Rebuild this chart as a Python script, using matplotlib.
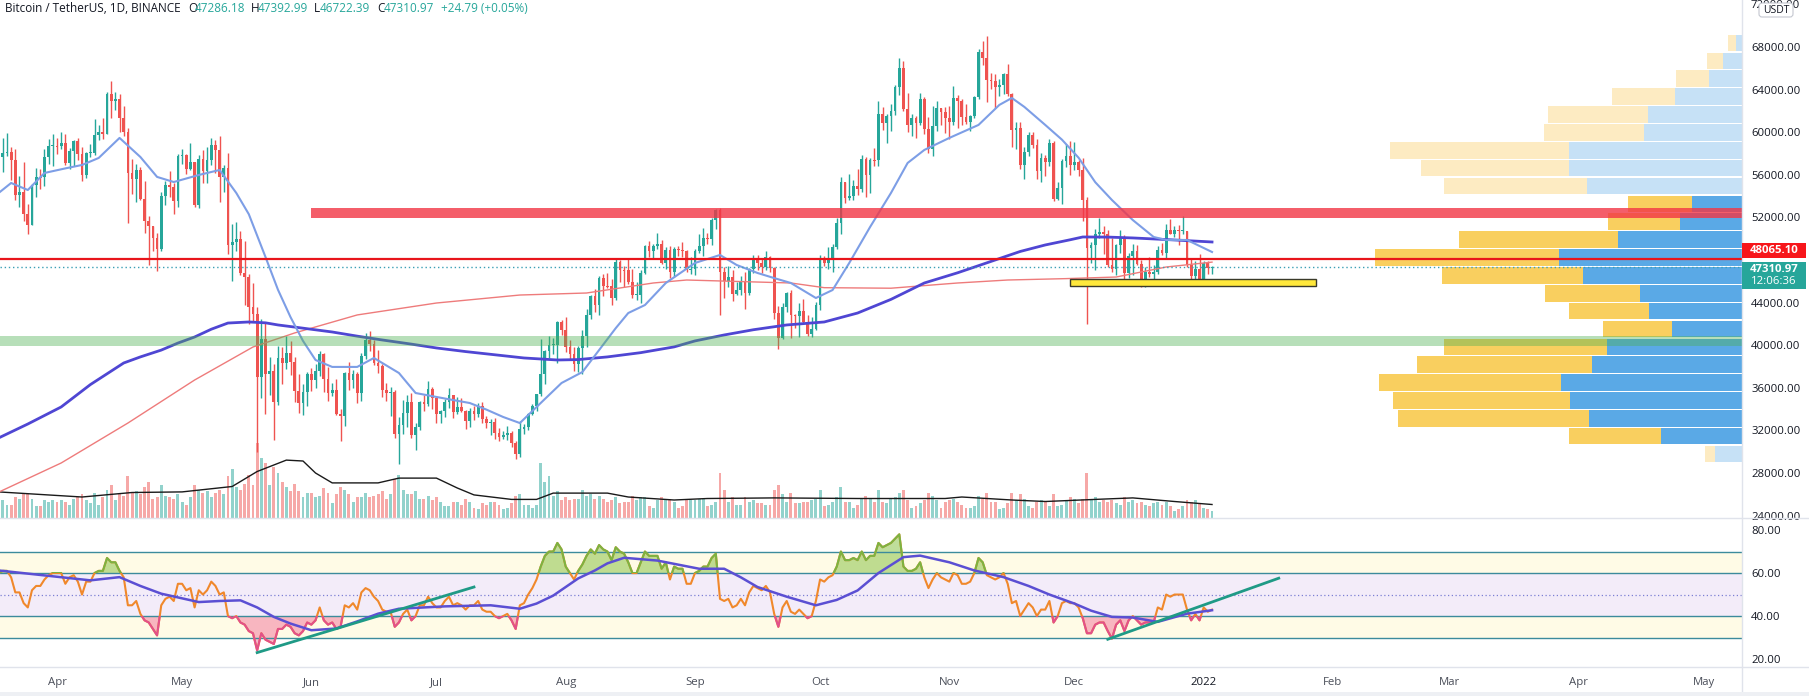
import numpy as np
import pandas as pd
import matplotlib
matplotlib.use("Agg")
import matplotlib.pyplot as plt
import matplotlib.dates as mdates
from matplotlib.patches import Rectangle, FancyBboxPatch
from matplotlib.transforms import blended_transform_factory
from matplotlib.lines import Line2D

plt.rcParams['font.family'] = ['Open Sans', 'DejaVu Sans']

# ---- daily candles, 2021-03-18 .. 2022-01-03 (BTC/USDT) ----
first_open = 58900
close = [
    57650, 58030, 58100, 57350, 54080, 54340, 52300, 51300, 55030, 55820, 55780, 57630, 58730, 58740,
    58720, 58970, 57060, 58200, 59130, 57990, 55950, 58080, 58090, 59770, 60000, 59860, 63580, 62960, 63160, 61330, 60000, 56150, 55630, 56430, 53750, 51700, 51150, 50050, 49000, 54020, 55030, 54820, 53550, 57750,
    57830, 56580, 57170, 53200, 57440, 56400, 57360, 58840, 58280, 55820, 56670, 49380, 49700, 49930, 46760, 46430, 43540, 42900, 36970, 40600, 37300, 37540, 34650, 38800, 38300, 39240, 38450, 35700, 34590, 35640, 37250,
    36690, 37560, 39190, 36850, 35520, 35800, 33550, 33380, 37390, 36690, 37310, 35550, 39020, 40520, 40140, 38350, 38090, 35820, 35480, 35600, 31680, 32510, 33680, 34660, 31590, 32280, 34700, 34490, 35910, 35040,
    33540, 33800, 34660, 35290, 33690, 34220, 33860, 32880, 33810, 33520, 34260, 33090, 32730, 32820, 31780, 31390, 31530, 31780, 30840, 29790, 32140, 32290, 33580, 34290, 35380, 37270, 39460, 40020, 40020, 42210, 41460,
    39850, 39150, 38200, 39720, 40860, 42840, 44610, 43820, 46290, 45590, 45550, 44420, 47830, 47100, 47050, 45940, 44690, 44700, 46760, 49320, 48870, 49280, 49520, 47700, 48960, 46850, 49070, 48900, 48830, 47050, 47170,
    48850, 49280, 50030, 49940, 51790, 52700, 46860, 46050, 46400, 44850, 45170, 46020, 44940, 47110, 48150, 47760, 47300, 48310, 47260, 43010, 40690, 43570, 44900, 42840, 42710, 43210, 42200, 41030, 41560, 43790,
    48140, 47670, 48200, 49230, 51490, 55340, 53800, 53970, 54960, 54690, 57490, 56000, 57370, 57350, 61670, 60880, 61530, 62010, 64280, 66000, 62210, 60690, 61290, 60850, 63080, 60330, 58460, 60590, 62270, 61890, 61320,
    61000, 63230, 62940, 61450, 61000, 61530, 63310, 67550, 66940, 64880, 64820, 64270, 64470, 65470, 63560, 60160, 60370, 56940, 58120, 59750, 58760, 56310, 57570, 57170, 58960, 53730, 54720, 57270, 57810, 56950,
    57180, 56480, 53600, 49150, 49400, 50440, 50590, 50470, 47550, 47140, 49390, 50100, 46740, 48380, 48860, 47630, 46130, 46830, 46680, 46910, 48900, 48610, 50820, 50400, 50780, 50700, 50700, 47540, 46460, 47120, 46220,
    47720, 47286.18, 47310.97,
]
high = [
    60100, 59450, 59900, 58600, 58400, 55850, 57200, 53250, 55100, 56650, 56550, 58400, 59400, 59800,
    59460, 60050, 59800, 58500, 59250, 59450, 58650, 58150, 58900, 61200, 60700, 61300, 63770, 64850, 63800, 63550, 62500, 60400, 57500, 57000, 56750, 55450, 52100, 51150, 50500, 54350, 55450, 56400, 55200, 57950,
    58450, 57950, 58950, 57200, 57900, 58350, 58650, 59500, 59300, 59600, 56900, 58000, 51350, 51550, 50700, 49800, 46650, 45800, 43550, 42450, 42200, 38850, 38250, 39900, 39800, 40900, 40400, 38900, 37300, 36400, 37450,
    37900, 38200, 39500, 39300, 37950, 36450, 36800, 34050, 37500, 38400, 37700, 37450, 39300, 41100, 41300, 40500, 39550, 38200, 36450, 36100, 35750, 33300, 34850, 35300, 35500, 32700, 34750, 35300, 36650, 36100,
    35050, 33950, 34950, 35950, 35300, 35100, 35050, 33900, 34100, 34250, 34600, 34650, 33350, 33100, 33200, 32250, 31950, 32450, 31900, 31050, 32850, 32600, 33650, 34500, 35400, 40550, 39550, 40900, 40650, 42300, 42400,
    42600, 40450, 39800, 39950, 41400, 43400, 44700, 45300, 46450, 46700, 46750, 46200, 48150, 48000, 47400, 48050, 47150, 45950, 47050, 49400, 49750, 49500, 50500, 49850, 49250, 49350, 49200, 49300, 49650, 48900, 48250,
    49000, 50400, 51050, 50550, 51900, 52800, 52900, 47350, 47400, 47050, 45950, 46450, 46900, 47250, 48450, 48500, 48150, 48850, 48350, 47350, 43650, 44000, 44950, 45200, 42950, 43950, 44350, 42800, 42600, 44100,
    48500, 48350, 49250, 49500, 51900, 55750, 55350, 56100, 55500, 56550, 57850, 57700, 57550, 58550, 62950, 62350, 61750, 62650, 64450, 67000, 66650, 63700, 61750, 61500, 63700, 63300, 61450, 62500, 62950, 62300, 62400,
    62450, 64300, 63500, 63100, 62600, 61600, 63350, 67800, 68550, 69000, 65600, 65450, 65000, 65550, 66400, 63650, 61000, 60950, 58600, 60000, 60050, 59400, 58000, 57900, 59400, 59200, 55300, 57450, 58850, 59200,
    59050, 57400, 57600, 53900, 49700, 50950, 51950, 51200, 50800, 50100, 49500, 50800, 50350, 48700, 49500, 49450, 48000, 47350, 48300, 47550, 49350, 49550, 51400, 51850, 51150, 51300, 52100, 50700, 48150, 47900, 48550,
    47950, 47950, 47392.99,
]
low = [
    57000, 56300, 57800, 55500, 53650, 53000, 51700, 50430, 51250, 53950, 54700, 54900, 57000, 56870,
    57930, 58450, 56900, 56500, 56800, 57350, 55450, 55700, 57700, 57900, 59250, 59400, 59800, 61300, 62050, 60000, 59600, 51500, 54200, 53400, 53600, 50500, 47500, 48800, 47000, 48800, 53200, 53900, 52350, 53000,
    57050, 56050, 56450, 53000, 52900, 55200, 55200, 56900, 56200, 53400, 54400, 48600, 46000, 48800, 46550, 43800, 42000, 42300, 30000, 35000, 33500, 35300, 31100, 34400, 36400, 37800, 37200, 34700, 33650, 33400, 34250,
    35700, 35950, 37150, 35600, 34800, 35250, 33400, 31000, 32400, 35800, 35950, 34600, 34750, 38750, 39500, 38100, 37400, 35150, 34800, 33350, 31250, 28800, 31700, 32300, 31300, 30150, 32000, 33850, 34250, 34000,
    32700, 32700, 33300, 34100, 33150, 33500, 33750, 32100, 32300, 33000, 33300, 32650, 32250, 31600, 31150, 31050, 31200, 31100, 30400, 29280, 29500, 31700, 32000, 33400, 33850, 35250, 36400, 38800, 39200, 38300, 41000,
    39400, 38700, 37600, 37500, 37300, 39850, 42450, 43100, 42850, 44650, 45350, 43800, 44250, 45950, 45500, 45700, 44400, 44200, 43950, 46650, 48300, 48100, 49050, 47600, 47150, 46300, 46400, 48400, 48300, 46850, 46700,
    46600, 48650, 48400, 49500, 49450, 50950, 42800, 44400, 45500, 44150, 44750, 44750, 43400, 44700, 46750, 47050, 46750, 47050, 46850, 42500, 39600, 40550, 43100, 40700, 41650, 40800, 42100, 40900, 40800, 41450,
    43300, 47450, 47150, 46900, 49050, 50400, 53350, 53600, 53650, 54100, 54400, 53900, 54300, 56800, 56850, 60200, 58950, 60100, 61600, 63450, 62000, 60000, 59650, 59500, 60650, 59800, 58000, 57800, 60150, 60700, 59950,
    59400, 60650, 60400, 60700, 60750, 60100, 61350, 63100, 66300, 62800, 64100, 62300, 63400, 63600, 63400, 58600, 58400, 56500, 55600, 57800, 58550, 55650, 55350, 55850, 56800, 53500, 53650, 53300, 56700, 56000,
    56450, 55850, 51700, 42000, 47700, 47100, 50050, 48600, 47300, 46850, 46600, 48650, 45650, 46300, 46550, 47500, 45450, 45500, 46400, 45550, 46650, 48450, 48050, 50400, 50150, 49450, 50450, 47300, 46100, 45900, 45700,
    46200, 46650, 46722.39,
]
# volume, thousand BTC
volume = [
    75, 60, 45, 45, 70, 65, 85, 80, 65, 40, 40, 60, 55, 60,
    55, 60, 55, 45, 65, 70, 80, 60, 50, 85, 45, 70, 95, 110, 60, 80, 75, 140, 85, 90, 80, 105, 120, 65, 70, 110, 75, 70, 65, 80,
    55, 45, 70, 110, 95, 85, 90, 70, 85, 95, 80, 140, 165, 105, 95, 115, 145, 110, 250, 200, 185, 110, 170, 150, 120, 105, 90, 115, 90, 70, 85,
    85, 70, 75, 100, 85, 50, 80, 105, 95, 80, 55, 70, 70, 85, 70, 75, 80, 90, 65, 80, 130, 145, 95, 80, 80, 90, 65, 65, 75, 60,
    70, 55, 40, 40, 55, 55, 45, 65, 55, 35, 30, 50, 45, 55, 55, 45, 30, 35, 50, 75, 80, 45, 45, 35, 45, 185, 120, 140, 75, 90, 60,
    70, 60, 65, 65, 95, 75, 80, 65, 75, 65, 55, 60, 70, 50, 55, 55, 75, 60, 70, 70, 40, 35, 60, 70, 60, 65, 55, 35, 40, 60, 60,
    60, 65, 65, 40, 45, 55, 150, 95, 55, 70, 45, 45, 70, 55, 60, 50, 50, 45, 45, 95, 110, 80, 55, 85, 50, 50, 55, 55, 60, 65,
    95, 40, 45, 55, 70, 105, 55, 55, 35, 45, 65, 75, 65, 55, 95, 55, 50, 65, 70, 85, 95, 60, 35, 40, 50, 60, 85, 75, 60, 35, 55,
    60, 65, 55, 45, 35, 35, 40, 75, 65, 85, 55, 55, 30, 35, 50, 85, 60, 80, 65, 40, 35, 55, 60, 55, 40, 80, 40, 45, 60, 70,
    65, 50, 65, 150, 60, 70, 55, 60, 55, 60, 50, 45, 70, 55, 60, 50, 55, 45, 40, 50, 55, 45, 55, 40, 25, 30, 40, 60, 55, 60, 50,
    35, 30, 25,
]
rsi = [
    60, 61, 61, 58, 51, 51, 46, 44, 52, 54, 54, 57, 59, 60,
    60, 60, 55, 58, 59, 56, 50, 56, 56, 60, 61, 61, 67, 65, 65, 61, 58, 45, 45, 47, 41, 38, 37, 34, 31, 45, 48, 49, 47, 55,
    55, 52, 53, 44, 52, 50, 52, 56, 54, 50, 51, 40, 39, 40, 37, 36, 33, 32, 24, 32, 29, 28, 27, 34, 34, 36, 35, 32, 31, 33, 37,
    36, 38, 44, 38, 36, 37, 34, 35, 45, 44, 46, 43, 51, 53, 52, 49, 47, 43, 42, 42, 35, 37, 41, 43, 38, 40, 45, 45, 49, 46,
    44, 44, 47, 49, 45, 46, 45, 43, 45, 45, 47, 43, 42, 42, 40, 39, 40, 41, 38, 34, 45, 46, 50, 53, 57, 63, 68, 70, 70, 74, 71,
    63, 60, 57, 61, 64, 68, 71, 69, 73, 71, 70, 66, 72, 70, 69, 65, 60, 60, 65, 70, 68, 68, 68, 62, 65, 57, 63, 62, 62, 55, 55,
    60, 61, 63, 63, 67, 69, 48, 47, 48, 44, 45, 48, 45, 51, 54, 53, 52, 54, 51, 41, 35, 44, 47, 42, 41, 43, 41, 39, 40, 47,
    57, 56, 58, 59, 63, 70, 66, 66, 67, 66, 70, 66, 68, 68, 74, 72, 73, 74, 76, 78, 63, 61, 61, 62, 65, 58, 53, 57, 60, 58, 57,
    56, 60, 59, 55, 55, 56, 60, 67, 65, 59, 58, 57, 58, 60, 55, 46, 47, 40, 43, 46, 44, 40, 43, 43, 47, 37, 40, 46, 47, 46,
    46, 44, 39, 32, 32, 36, 37, 37, 33, 29.5, 36, 38, 33, 38, 40, 38, 36, 37, 37, 37, 44, 43, 50, 49, 50, 50, 50, 43, 38, 41, 38,
    44, 42, 43,
]

ema20_d = ['2021-03-18', '2021-03-21', '2021-03-25', '2021-03-29', '2021-04-03', '2021-04-07', '2021-04-11', '2021-04-16',
           '2021-04-21', '2021-04-25', '2021-04-29', '2021-05-05', '2021-05-10', '2021-05-14', '2021-05-17', '2021-05-21',
           '2021-05-24', '2021-05-27', '2021-05-30', '2021-06-02', '2021-06-06', '2021-06-12', '2021-06-16', '2021-06-22',
           '2021-06-26', '2021-07-01', '2021-07-05', '2021-07-09', '2021-07-13', '2021-07-17', '2021-07-21', '2021-07-26',
           '2021-07-31', '2021-08-05', '2021-08-09', '2021-08-13', '2021-08-16', '2021-08-20', '2021-08-25', '2021-09-01',
           '2021-09-07', '2021-09-11', '2021-09-16', '2021-09-20', '2021-09-24', '2021-09-30', '2021-10-04', '2021-10-08',
           '2021-10-13', '2021-10-18', '2021-10-22', '2021-10-26', '2021-11-01', '2021-11-08', '2021-11-13', '2021-11-16',
           '2021-11-19', '2021-11-24', '2021-11-28', '2021-12-02', '2021-12-06', '2021-12-10', '2021-12-15', '2021-12-20',
           '2021-12-23', '2021-12-28', '2022-01-03']
ema20_v = [54290, 55230, 54570, 56170, 56600, 56920, 57580, 59460, 57670, 55800, 55320, 55980, 56450, 54290, 52300, 48280,
           45200, 42640, 40400, 38610, 37960, 37960, 38800, 37390, 35510, 35140, 34850, 34570, 33950, 33260, 32690, 34570,
           36450, 37480, 39540, 41600, 43020, 43770, 45840, 47720, 48470, 47530, 46780, 46300, 45840, 44430, 45180, 47720,
           51100, 54290, 57110, 58330, 59460, 60680, 62560, 63210, 62370, 60680, 59300, 57600, 55300, 53630, 51750, 50160,
           49880, 49880, 48750]
ma200_d = ['2021-03-18', '2021-04-02', '2021-04-18', '2021-05-04', '2021-05-18', '2021-05-28', '2021-06-12', '2021-07-01',
           '2021-07-21', '2021-08-06', '2021-08-22', '2021-08-30', '2021-09-16', '2021-09-24', '2021-10-02', '2021-10-18',
           '2021-11-03', '2021-11-15', '2021-11-29', '2021-12-11', '2021-12-23', '2022-01-03']
ma200_v = [26200, 28940, 32690, 36730, 39830, 41150, 42840, 43960, 44710, 44900, 45840, 46120, 45930, 45840, 45400, 45350,
           45840, 46120, 46250, 46400, 47340, 47800]
ema200_d = ['2021-03-18', '2021-03-25', '2021-04-02', '2021-04-09', '2021-04-17', '2021-04-21', '2021-04-26', '2021-04-30',
            '2021-05-04', '2021-05-08', '2021-05-12', '2021-05-17', '2021-05-21', '2021-05-24', '2021-05-28', '2021-06-06',
            '2021-06-12', '2021-06-18', '2021-06-25', '2021-07-01', '2021-07-08', '2021-07-15', '2021-07-22', '2021-07-30',
            '2021-08-04', '2021-08-11', '2021-08-19', '2021-08-27', '2021-09-01', '2021-09-08', '2021-09-15', '2021-09-23',
            '2021-10-02', '2021-10-10', '2021-10-18', '2021-10-26', '2021-11-03', '2021-11-12', '2021-11-18', '2021-11-24',
            '2021-11-30', '2021-12-03', '2021-12-09', '2021-12-15', '2021-12-24', '2022-01-03']
ema200_v = [31290, 32600, 34200, 36300, 38330, 38900, 39540, 40200, 40770, 41500, 42080, 42180, 42100, 41900, 41700, 41240,
            40850, 40490, 40100, 39740, 39400, 39100, 38800, 38610, 38650, 38900, 39300, 39840, 40400, 40960, 41450, 41900,
            42180, 43020, 44300, 45840, 46800, 48000, 48800, 49410, 49900, 50160, 50150, 50070, 49900, 49690]
volma_d = ['2021-03-18', '2021-04-07', '2021-04-19', '2021-05-01', '2021-05-13', '2021-05-19', '2021-05-26', '2021-05-30',
           '2021-06-02', '2021-06-06', '2021-06-17', '2021-06-22', '2021-07-01', '2021-07-06', '2021-07-10', '2021-07-19',
           '2021-07-25', '2021-07-29', '2021-08-11', '2021-08-16', '2021-08-27', '2021-09-04', '2021-09-20', '2021-10-10',
           '2021-10-31', '2021-11-04', '2021-11-16', '2021-11-24', '2021-12-06', '2021-12-15', '2021-12-25', '2022-01-03']
volma_v = [87, 70, 85, 87, 105, 155, 193, 190, 150, 117, 117, 133, 133, 100, 77, 62, 62, 83, 83, 70, 60, 65, 67, 65, 65, 70,
           60, 55, 62, 67, 55, 45]
rsima_d = ['2021-03-18', '2021-03-29', '2021-04-09', '2021-04-16', '2021-04-21', '2021-04-26', '2021-05-05', '2021-05-10',
           '2021-05-15', '2021-05-19', '2021-05-23', '2021-05-27', '2021-06-01', '2021-06-07', '2021-06-12', '2021-06-17',
           '2021-06-22', '2021-07-03', '2021-07-14', '2021-07-21', '2021-07-25', '2021-07-29', '2021-08-01', '2021-08-04',
           '2021-08-08', '2021-08-11', '2021-08-15', '2021-08-23', '2021-09-02', '2021-09-08', '2021-09-12', '2021-09-16',
           '2021-09-23', '2021-09-30', '2021-10-05', '2021-10-10', '2021-10-15', '2021-10-21', '2021-10-25', '2021-11-01',
           '2021-11-07', '2021-11-14', '2021-11-20', '2021-11-25', '2021-12-01', '2021-12-05', '2021-12-10', '2021-12-15',
           '2021-12-21', '2021-12-28', '2022-01-03']
rsima_v = [61.2, 58.9, 56.6, 58.1, 54.0, 50.4, 46.5, 47.0, 47.3, 44.0, 39.6, 36.5, 33.4, 34.2, 37.5, 41.1, 43.4, 44.5, 45.0,
           43.4, 45.8, 49.5, 53.5, 57.5, 61.2, 64.5, 67.1, 65.8, 62.0, 62.0, 58.0, 53.5, 49.0, 45.0, 47.5, 51.9, 60.0, 67.4,
           68.1, 65.0, 61.2, 58.1, 54.0, 50.0, 45.8, 42.5, 39.6, 39.3, 37.3, 41.1, 42.7]

# ---- volume profile (rows from bottom, 1678 USDT each) ----
prof_bottom = 28940
prof_step = 1678
prof_total = [37, 173, 344, 349, 363, 325, 298, 139, 173, 197, 300, 367, 283, 134, 114, 298, 321, 352, 198, 194, 130, 66, 35, 14]
prof_up = [27, 81, 153, 172, 181, 150, 135, 70, 93, 102, 159, 183, 124, 62, 50, 155, 173, 173, 98, 94, 67, 33, 19, 6]
value_area = [False] + [True] * 14 + [False] * 9

# ---- drawings ----
res_zone = (51940, 52880)
sup_zone = (39920, 40860)
box_zone = (45550, 46210)
level_line = 48065.10
last_price = 47310.97
tl1 = (['2021-05-19', '2021-07-10'], [23.0, 53.5])
tl2 = (['2021-12-09', '2022-01-19'], [29.2, 57.6])

month_ticks = ['2021-04-01', '2021-05-01', '2021-06-01', '2021-07-01', '2021-08-01', '2021-09-01', '2021-10-01',
               '2021-11-01', '2021-12-01', '2022-01-01', '2022-02-01', '2022-03-01', '2022-04-01', '2022-05-01']
month_labels = ['Apr', 'May', 'Jun', 'Jul', 'Aug', 'Sep', 'Oct', 'Nov', 'Dec', '2022', 'Feb', 'Mar', 'Apr', 'May']

# ---------------------------------------------------------------------------
close = np.array(close, float)
high = np.array(high, float)
low = np.array(low, float)
volume = np.array(volume, float)
rsi = np.array(rsi, float)
opens = np.r_[first_open, close[:-1]]
dates = pd.date_range('2021-03-18', periods=len(close), freq='D')
x = mdates.date2num(dates)
dn = lambda lst: mdates.date2num(pd.to_datetime(lst))

UP, DN = '#26a69a', '#ef5350'
up = close >= opens
ccol = np.where(up, UP, DN)

W, H = 1809, 696
fig = plt.figure(figsize=(W / 100, H / 100), dpi=100)


def rect(x0, y0, x1, y1):
    return [x0 / W, 1 - y1 / H, (x1 - x0) / W, (y1 - y0) / H]


ax_vol = fig.add_axes(rect(0, 0, 1742, 518))
ax = fig.add_axes(rect(0, 0, 1742, 518), sharex=ax_vol)
ax_rsi = fig.add_axes(rect(0, 518, 1742, 667), sharex=ax_vol)
ax.patch.set_alpha(0)

xl = (x[0] + 0.33, x[0] + 418.1)
ax_vol.set_xlim(*xl)

# volume
ax_vol.bar(x, volume, width=0.7, color=np.where(up, '#26a69a', '#ef5350'), alpha=0.5, linewidth=0)
ax_vol.plot(dn(volma_d), volma_v, color='#1a1a1a', lw=1)
ax_vol.set_ylim(0, 1727)
ax_vol.axis('off')

# volume profile on the right
trans = blended_transform_factory(ax.transAxes, ax.transData)
scale = 367 / 1742 / max(prof_total)
for j, (tot, u) in enumerate(zip(prof_total, prof_up)):
    yb = prof_bottom + j * prof_step + 60
    hh = prof_step - 120
    cy, cb = ('#f9cf5f', '#5aa9e6') if value_area[j] else ('#fdebc2', '#c6e1f6')
    ax.add_patch(Rectangle((1 - tot * scale, yb), (tot - u) * scale, hh, transform=trans, color=cy, lw=0, zorder=1))
    ax.add_patch(Rectangle((1 - u * scale, yb), u * scale, hh, transform=trans, color=cb, lw=0, zorder=1))

# candles
lo = np.minimum(low, np.minimum(opens, close))
hi = np.maximum(high, np.maximum(opens, close))
ax.vlines(x, lo, hi, colors=ccol, lw=1, zorder=3)
body = close - opens
body = np.where(np.abs(body) < 90, np.where(up, 90, -90), body)
ax.bar(x, body, bottom=opens, width=0.66, color=ccol, linewidth=0, zorder=3)

# moving averages
ax.plot(dn(ma200_d), ma200_v, color='#ee7b7b', lw=1, zorder=4)
ax.plot(dn(ema200_d), ema200_v, color='#4f46d3', lw=2, zorder=4, solid_joinstyle='round')
ax.plot(dn(ema20_d), ema20_v, color='#7d9ee6', lw=1.5, zorder=4, solid_joinstyle='round')

# zones and levels
start = (dn(['2021-06-01'])[0] - xl[0]) / (xl[1] - xl[0])
ax.axhspan(*res_zone, xmin=start, xmax=1, color='#f23645', alpha=0.8, lw=0, zorder=5)
ax.axhspan(*sup_zone, color='#4caf50', alpha=0.4, lw=0, zorder=5)
bx = dn(['2021-11-30', '2022-01-28'])
ax.add_patch(Rectangle((bx[0], box_zone[0]), bx[1] - bx[0], box_zone[1] - box_zone[0],
                       facecolor='#ffe83b', edgecolor='#3a3a2a', lw=1, zorder=6))
ax.axhline(level_line, color='#e8151b', lw=1.6, zorder=6)
ax.axhline(last_price, color='#3a9fb5', lw=1, ls=(0, (1, 2)), zorder=6)

ax.set_ylim(23775, 72410)
ax.yaxis.tick_right()
ticks = np.arange(24000, 72001, 4000)
ax.set_yticks(ticks)
# the 48000 label sits under the price tags on the original
ax.set_yticklabels(['' if v == 48000 else f'{v:.2f}' for v in ticks])
ax.tick_params(axis='y', length=0, pad=6.5, labelsize=8.2, labelcolor='#131722')
ax.tick_params(axis='x', bottom=False, labelbottom=False)
for s in ax.spines.values():
    s.set_visible(False)

# RSI panel
ax_rsi.axhspan(60, 70, color='#fffbe6', lw=0)
ax_rsi.axhspan(40, 60, color='#f3ecf9', lw=0)
ax_rsi.axhspan(30, 40, color='#fffbe6', lw=0)
for lv in (70, 60, 40, 30):
    ax_rsi.axhline(lv, color='#3c8b9c', lw=1)
ax_rsi.axhline(50, color='#7c80d4', lw=0.9, ls=(0, (1, 2)))
ax_rsi.fill_between(x, rsi, 60, where=rsi >= 60, interpolate=True, color='#8bc34a', alpha=0.55, lw=0)
ax_rsi.fill_between(x, rsi, 40, where=rsi <= 40, interpolate=True, color='#f06292', alpha=0.45, lw=0)
ax_rsi.plot(x, rsi, color='#f0882b', lw=1.5)
g, = ax_rsi.plot(x, rsi, color='#7cb342', lw=1.5)
g.set_clip_path(Rectangle((xl[0], 60), xl[1] - xl[0], 40, transform=ax_rsi.transData))
p, = ax_rsi.plot(x, rsi, color='#e2508a', lw=1.5)
p.set_clip_path(Rectangle((xl[0], 0), xl[1] - xl[0], 40, transform=ax_rsi.transData))
ax_rsi.plot(dn(rsima_d), rsima_v, color='#5b4fd3', lw=1.8, solid_joinstyle='round')
ax_rsi.plot(dn(tl1[0]), tl1[1], color='#1f9a86', lw=2)
ax_rsi.plot(dn(tl2[0]), tl2[1], color='#1f9a86', lw=2)
ax_rsi.set_ylim(16.3, 85.6)
ax_rsi.yaxis.tick_right()
ax_rsi.set_yticks([20, 40, 60, 80])
ax_rsi.set_yticklabels(['20.00', '40.00', '60.00', '80.00'])
ax_rsi.tick_params(axis='y', length=0, pad=6.5, labelsize=8.2, labelcolor='#131722')
ax_rsi.set_xticks(dn(month_ticks))
ax_rsi.set_xticklabels(month_labels)
ax_rsi.tick_params(axis='x', length=0, pad=7, labelsize=8.2, labelcolor='#4a4e59')
ax_rsi.get_xticklabels()[9].set_color('#131722')
for s in ax_rsi.spines.values():
    s.set_visible(False)

# separators
fig.add_artist(Line2D([0, 1], [1 - 518 / H] * 2, color='#e0e3eb', lw=1))
fig.add_artist(Line2D([0, 1], [1 - 667 / H] * 2, color='#e0e3eb', lw=1))
fig.add_artist(Line2D([1742 / W] * 2, [0, 1], color='#e0e3eb', lw=1))

# overlay in pixel coords: header, price tags, currency box
ov = fig.add_axes([0, 0, 1, 1], zorder=10)
ov.set_xlim(0, W)
ov.set_ylim(H, 0)
ov.axis('off')
ov.add_patch(Rectangle((0, 692), W, 4, color='#eef0f4', lw=0))
hdr = dict(fontsize=8.5, va='center', ha='left')
ov.text(5, 9, 'Bitcoin / TetherUS, 1D, BINANCE', color='#131722', **hdr)
for lx, lab, vx, val in [(188, 'O', 195, '47286.18'), (251, 'H', 258, '47392.99'),
                         (314, 'L', 320, '46722.39'), (377, 'C', 384, '47310.97')]:
    ov.text(lx, 9, lab, color='#131722', **hdr)
    ov.text(vx, 9, val, color='#26a69a', **hdr)
ov.text(441, 9, '+24.79 (+0.05%)', color='#26a69a', **hdr)

ov.add_patch(Rectangle((1742, 243), 64, 15, color='#f7161b', lw=0))
ov.text(1774, 250.5, '48065.10', color='white', fontsize=8.2, fontweight='bold', ha='center', va='center')
ov.add_patch(Rectangle((1742, 262), 64, 27, color='#26a69a', lw=0))
ov.text(1774, 269, '47310.97', color='white', fontsize=8.2, fontweight='bold', ha='center', va='center')
ov.text(1774, 282, '12:06:36', color='white', fontsize=8.2, ha='center', va='center')
ov.add_patch(FancyBboxPatch((1759, 3), 34, 14, boxstyle='round,pad=0,rounding_size=3',
                            facecolor='white', edgecolor='#c4c7d0', lw=0.8))
ov.text(1776, 10.5, 'USDT', color='#131722', fontsize=7.5, ha='center', va='center')

fig.savefig('out.png', dpi=100)
